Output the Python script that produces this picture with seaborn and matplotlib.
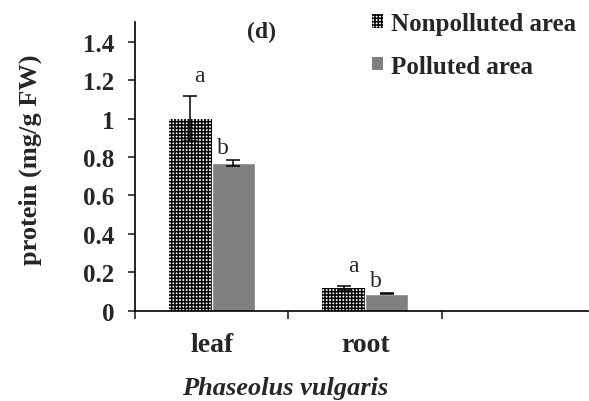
import numpy as np
import pandas as pd
import matplotlib
matplotlib.use("Agg")
import matplotlib.pyplot as plt
import seaborn as sns
from matplotlib.patches import Patch

organs = ["leaf", "root"]
areas = ["Nonpolluted area", "Polluted area"]
nonpolluted = [1.0, 0.12]
polluted = [0.77, 0.09]
nonpolluted_err = [0.115, 0.01]
polluted_err = [0.015, 0.004]
nonpolluted_letters = ["a", "a"]
polluted_letters = ["b", "b"]
y_ticks = [0, 0.2, 0.4, 0.6, 0.8, 1, 1.2, 1.4]
y_tick_labels = ["0", "0.2", "0.4", "0.6", "0.8", "1", "1.2", "1.4"]

df = pd.DataFrame({
    "organ": organs * 2,
    "area": [areas[0]] * 2 + [areas[1]] * 2,
    "value": nonpolluted + polluted,
})

sns.set_style("white")
plt.rcParams["font.family"] = ["Liberation Serif", "DejaVu Serif"]
plt.rcParams["hatch.linewidth"] = 1.1

fig = plt.figure(figsize=(5.89, 4.02), dpi=100)
ax = fig.add_axes([0.229, 0.224, 0.769, 0.718])

sns.barplot(data=df, x="organ", y="value", hue="area", order=organs,
            hue_order=areas, palette=["white", "#808080"], width=0.56,
            saturation=1, errorbar=None, ax=ax, legend=False)

bars = [p for p in ax.patches if p.get_height() > 0]
bars.sort(key=lambda p: p.get_x())
errs = []
letters = []
for i in range(len(organs)):
    errs += [nonpolluted_err[i], polluted_err[i]]
    letters += [nonpolluted_letters[i], polluted_letters[i]]

for k, p in enumerate(bars):
    cx = p.get_x() + p.get_width() / 2
    h = p.get_height()
    ax.errorbar(cx, h, yerr=errs[k], color="black", capsize=5, lw=1.1,
                capthick=1.1)
    if k % 2 == 0:
        # dense black mesh with small white holes
        p.set_hatch("+++++")
        p.set_edgecolor("black")
        p.set_linewidth(0)
        ax.text(cx + 0.06, h + errs[k] + 0.08, letters[k], ha="center",
                va="baseline", fontsize=17)
    else:
        ax.text(cx - 0.07, h + errs[k] + 0.035, letters[k], ha="center",
                va="baseline", fontsize=17)

ax.set_xlim(-0.5, 2.45)
ax.set_ylim(0, 1.5)
ax.set_yticks(y_ticks)
ax.set_yticklabels(y_tick_labels, fontsize=18, fontweight="bold")
ax.set_xticks([-0.5, 0.5, 1.5])
ax.set_xticklabels([])
ax.set_xticks([0, 1], minor=True)
ax.set_xticklabels(organs, minor=True, fontsize=20, fontweight="bold")
ax.tick_params(axis="x", which="minor", length=0, pad=15)
ax.tick_params(axis="x", which="major", direction="out", length=6, width=1.2,
               bottom=True)
ax.tick_params(axis="y", direction="out", length=5, width=1.2, left=True,
               pad=10)

for s in ["top", "right"]:
    ax.spines[s].set_visible(False)
for s in ["left", "bottom"]:
    ax.spines[s].set_color("black")
    ax.spines[s].set_linewidth(1.2)

ax.set_ylabel("protein (mg/g FW)", fontsize=19, fontweight="bold")
ax.yaxis.set_label_coords(-0.205, 0.526)
ax.set_xlabel("Phaseolus vulgaris", fontsize=19, fontweight="bold",
              style="italic")
ax.xaxis.set_label_coords(0.331, -0.225)
fig.text(262 / 589, 1 - 32 / 402, "(d)", fontsize=17, fontweight="bold",
         ha="center", va="center")

handles = [Patch(facecolor="white", edgecolor="black", hatch="+++++", lw=0),
           Patch(facecolor="#808080", lw=0)]
ax.legend(handles, areas, loc="upper left",
          bbox_to_anchor=(372 / 589, 1 - 13 / 402),
          bbox_transform=fig.transFigure, frameon=False, borderpad=0,
          borderaxespad=0, prop={"weight": "bold", "size": 18},
          handlelength=0.45, handleheight=0.45, handletextpad=0.3,
          labelspacing=0.78)

fig.savefig("out.png", dpi=100)
